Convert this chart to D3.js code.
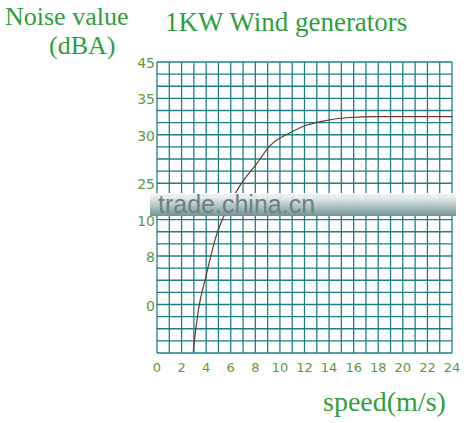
<!DOCTYPE html><html><head><script src="https://cdn.jsdelivr.net/npm/d3@7"></script>
<style>body{margin:0;background:#fff}</style></head><body><svg width="469" height="423"></svg>
<script>
const xTicks=[0,2,4,6,8,10,12,14,16,18,20,22,24];
const yLabels=["45","35","30","25","10","8","0"];
const yLabelRows=[0,3,6,10,13,16,20];
const curveSpeed=[2.95,3.1,3.36,3.98,4.8,5.4,6.75,8.1,9.2,10.9,12.2,13.4,15.4,18,24];
const curveRow=[23.9,22.5,20.5,17.7,14.4,12.8,10.2,8.4,6.9,5.8,5.2,4.9,4.6,4.5,4.5];
const svg=d3.select("svg");
const x=d3.scaleLinear().domain([0,24]).range([157,452]);
const y=d3.scaleLinear().domain([0,24]).range([62,353]);
const grid="#1f7f88";
const g=svg.append("g");
d3.range(25).forEach(i=>{
 g.append("line").attr("x1",x(i)).attr("x2",x(i)).attr("y1",y(0)).attr("y2",y(24)).attr("stroke",grid).attr("stroke-width",1.3);
 g.append("line").attr("y1",y(i)).attr("y2",y(i)).attr("x1",x(0)).attr("x2",x(24)).attr("stroke",grid).attr("stroke-width",1.3);
});
const lab="#5a9a3a";
svg.selectAll(".xl").data(xTicks).enter().append("text").attr("x",d=>x(d)).attr("y",372).attr("text-anchor","middle")
 .attr("font-family","DejaVu Sans").attr("font-size",13).attr("fill",lab).text(d=>d);
svg.selectAll(".yl").data(yLabels).enter().append("text").attr("x",155).attr("y",(d,i)=>y(yLabelRows[i])+6).attr("text-anchor","end")
 .attr("font-family","DejaVu Sans").attr("font-size",14).attr("fill",lab).text(d=>d);
const line=d3.line().x((d,i)=>x(curveSpeed[i])).y((d,i)=>y(curveRow[i])).curve(d3.curveMonotoneX);
svg.append("path").datum(curveSpeed).attr("d",line).attr("fill","none").attr("stroke","#6a3a2a").attr("stroke-width",1.2);
const grad=svg.append("defs").append("linearGradient").attr("id","wm").attr("x1",0).attr("x2",0).attr("y1",0).attr("y2",1);
grad.append("stop").attr("offset","0").attr("stop-color","#ffffff").attr("stop-opacity",0.9);
grad.append("stop").attr("offset","0.4").attr("stop-color","#c8d6d6").attr("stop-opacity",1);
grad.append("stop").attr("offset","1").attr("stop-color","#6f9494").attr("stop-opacity",1);
svg.append("rect").attr("x",150).attr("y",193).attr("width",306).attr("height",23).attr("fill","url(#wm)");
svg.append("text").attr("x",158).attr("y",213).attr("font-family","Liberation Sans").attr("font-size",25).attr("fill","#6f7f7f").text("trade.china.cn");
const t="#2e9e3e";
const tf="Liberation Serif";
svg.append("text").attr("x",5).attr("y",25).attr("font-family",tf).attr("font-size",26).attr("fill",t).text("Noise value");
svg.append("text").attr("x",49).attr("y",54).attr("font-family",tf).attr("font-size",26).attr("fill",t).text("(dBA)");
svg.append("text").attr("x",165).attr("y",31).attr("font-family",tf).attr("font-size",27).attr("fill",t).text("1KW Wind generators");
svg.append("text").attr("x",323).attr("y",411).attr("font-family",tf).attr("font-size",28).attr("fill",t).text("speed(m/s)");
</script></body></html>
